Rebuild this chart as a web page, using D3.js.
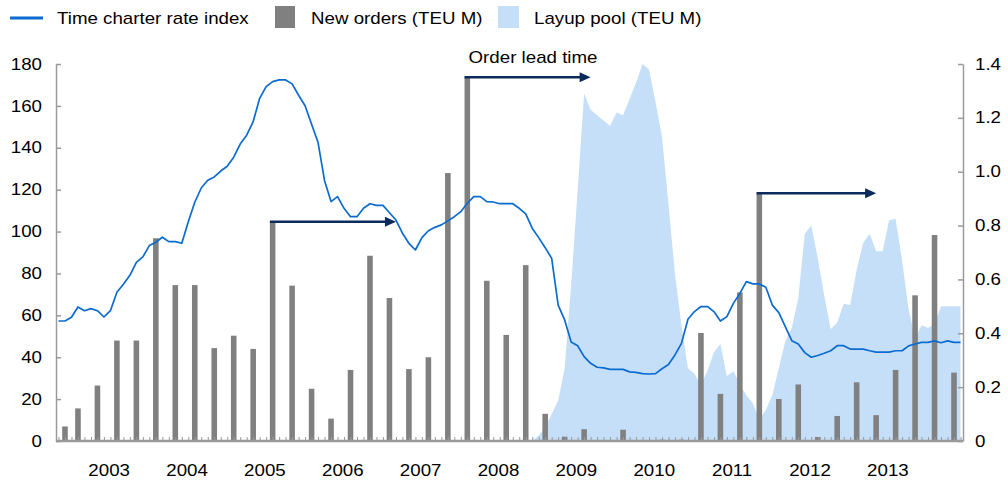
<!DOCTYPE html>
<html><head><meta charset="utf-8">
<script src="https://cdn.jsdelivr.net/npm/d3@7"></script>
<style>
html,body{margin:0;padding:0;background:#fff;}
svg{display:block;font-family:"Liberation Sans",Arial,sans-serif;}
</style></head><body>
<svg id="chart" width="1008" height="481"></svg>
<script>
// ---------- data ----------
const firstMonth = "2002-11";
const lastMonth = "2014-06";
const yearLabels = ["2003","2004","2005","2006","2007","2008","2009","2010","2011","2012","2013"];
const leftTicks = [0,20,40,60,80,100,120,140,160,180];
const rightTicks = [0,0.2,0.4,0.6,0.8,1.0,1.2,1.4];

// Time charter rate index, monthly Nov 2002 .. Jun 2014
const charterIndex = [
 57.3,57.3,59.1,64.0,62.2,63.2,62.2,59.2,62.2,71.0,74.8,79.1,
 85.3,87.9,93.3,94.9,97.3,95.2,95.2,94.4,104.7,114.0,120.8,124.5,
 126.1,128.9,131.2,135.5,141.8,146.0,152.5,163.6,169.2,171.6,172.4,172.4,
 170.5,165.1,160.1,151.2,142.5,124.3,114.3,116.7,111.1,107.1,107.1,111.1,
 113.3,112.5,112.5,109.0,105.5,99.2,94.4,91.2,97.1,100.4,102.0,103.2,
 105.1,107.1,109.5,113.5,116.7,116.7,114.3,114.1,113.3,113.3,113.3,111.1,
 108.4,101.6,97.1,92.3,87.2,64.9,57.8,47.3,45.5,40.3,37.1,35.2,
 34.9,34.2,34.2,34.2,33.0,32.8,32.2,32.0,32.2,34.5,36.5,41.1,
 46.6,58.1,61.8,64.2,64.2,61.8,57.3,59.4,65.7,70.5,76.1,75.0,
 75.0,73.4,64.9,61.3,54.6,47.9,46.3,42.2,40.0,40.8,41.9,43.1,
 45.5,45.5,43.9,43.9,43.9,43.1,42.4,42.4,42.4,43.1,43.1,45.4,
 46.3,47.1,47.1,47.8,46.9,47.8,47.1,47.1
];

// Layup pool (TEU M), monthly Nov 2002 .. Jun 2014
const layupPool = [
 0,0,0,0,0,0,0,0,0,0,0,0,
 0,0,0,0,0,0,0,0,0,0,0,0,
 0,0,0,0,0,0,0,0,0,0,0,0,
 0,0,0,0,0,0,0,0,0,0,0,0,
 0,0,0,0,0,0,0,0,0,0,0,0,
 0,0,0,0,0,0,0,0,0,0,0,0,
 0,0,0.02,0.05,0.10,0.15,0.27,0.58,0.93,1.29,1.23,1.21,
 1.19,1.17,1.22,1.21,1.27,1.33,1.40,1.38,1.26,1.13,0.88,0.62,
 0.43,0.27,0.25,0.21,0.26,0.33,0.36,0.24,0.26,0.21,0.17,0.14,
 0.08,0.115,0.17,0.27,0.37,0.42,0.53,0.77,0.80,0.68,0.54,0.415,
 0.44,0.51,0.505,0.635,0.735,0.77,0.705,0.705,0.82,0.825,0.67,0.49,
 0.38,0.43,0.42,0.435,0.50,0.50,0.50,0.50
];

// New orders (TEU M), quarterly
const orderMonths = [
 "2002-12","2003-02","2003-05","2003-08","2003-11","2004-02","2004-05","2004-08","2004-11",
 "2005-02","2005-05","2005-08","2005-11","2006-02","2006-05","2006-08","2006-11",
 "2007-02","2007-05","2007-08","2007-11","2008-02","2008-05","2008-08","2008-11",
 "2009-02","2009-05","2009-08","2009-11","2010-02","2010-05","2010-08","2010-11",
 "2011-02","2011-05","2011-08","2011-11","2012-02","2012-05","2012-08","2012-11",
 "2013-02","2013-05","2013-08","2013-11","2014-02","2014-05"
];
const orderValues = [
 0.054,0.121,0.206,0.373,0.373,0.753,0.579,0.579,0.345,
 0.391,0.342,0.814,0.577,0.194,0.083,0.264,0.688,
 0.531,0.267,0.311,0.995,1.351,0.595,0.394,0.653,
 0.101,0.016,0.044,0,0.042,0,0.005,0.005,
 0.401,0.175,0.552,0.920,0.156,0.210,0.015,0.093,
 0.218,0.096,0.264,0.541,0.765,0.254
];

// Order lead time arrows: from order month to delivery month
const arrowFrom = ["2005-08","2008-02","2011-11"];
const arrowTo   = ["2007-03","2009-09","2013-05"];
const arrowLabel = ["","Order lead time",""];

// ---------- layout ----------
const SX = 1.17, FS = 16;
const plotL = 56, plotR = 963, plotT = 64, plotB = 441;
const fmt = d3.timeFormat("%Y-%m"), parse = d3.timeParse("%Y-%m");
const months = d3.timeMonth.range(parse(firstMonth), d3.timeMonth.offset(parse(lastMonth),1)).map(fmt);

const svg = d3.select("#chart");
const x = d3.scalePoint().domain(months).range([58.5, 960.5]);
const yL = d3.scaleLinear().domain([0,180]).range([plotB, plotT]);
const yR = d3.scaleLinear().domain([0,1.4]).range([plotB, plotT]);
const step = x.step();
const barW = step*0.86;

function stretch(sel){
  sel.each(function(){
    const t = d3.select(this);
    const tx = +t.attr("x")||0, ty = +t.attr("y")||0;
    t.attr("x",0).attr("y",0).attr("transform",`translate(${tx},${ty}) scale(${SX},1)`);
  });
}

// area
svg.append("path")
  .datum(months.map((m,i)=>({m, v: layupPool[i]})))
  .attr("fill","#c6dff8")
  .attr("d", d3.area().x(d=>x(d.m)).y0(yR(0)).y1(d=>yR(d.v)));

// bars
svg.append("g").selectAll("rect").data(orderMonths.map((m,i)=>({m, v: orderValues[i]})))
  .join("rect")
  .attr("x", d=>x(d.m)-barW/2).attr("width", barW)
  .attr("y", d=>yR(d.v)).attr("height", d=>yR(0)-yR(d.v))
  .attr("fill","#808080");

// bottom axis ticks (monthly)
const xAxis = svg.append("g").attr("transform",`translate(0,${plotB})`)
  .call(d3.axisBottom(x).tickValues(months).tickSize(-4).tickFormat(""));
xAxis.select(".domain").remove();
xAxis.selectAll("line").attr("stroke","#9a9a9a").attr("stroke-width",1);
svg.append("line").attr("x1",plotL).attr("x2",plotR).attr("y1",plotB).attr("y2",plotB)
  .attr("stroke","#9a9a9a").attr("stroke-width",2.5);

// year labels
svg.append("g").selectAll("text").data(yearLabels).join("text")
  .attr("x", d=>(x(d+"-06")+x(d+"-07"))/2 + 2).attr("y",476)
  .attr("text-anchor","middle").attr("font-size",FS).attr("fill","#000")
  .text(d=>d).call(stretch);

// left axis
const gL = svg.append("g").attr("transform",`translate(${plotL},0)`)
  .call(d3.axisLeft(yL).tickValues(leftTicks).tickSize(-5).tickSizeOuter(0).tickPadding(14));
gL.select(".domain").attr("stroke","#9a9a9a").attr("stroke-width",1.5);
gL.selectAll(".tick line").attr("stroke","#9a9a9a").attr("stroke-width",1.5);
gL.selectAll("text").attr("font-size",FS).attr("font-family","Liberation Sans, Arial, sans-serif").attr("fill","#000").call(stretch);

// right axis
const gR = svg.append("g").attr("transform",`translate(${plotR},0)`)
  .call(d3.axisRight(yR).tickValues(rightTicks).tickSize(-5).tickSizeOuter(0).tickPadding(12)
    .tickFormat(d=> d===0 ? "0" : d3.format(".1f")(d)));
gR.select(".domain").attr("stroke","#9a9a9a").attr("stroke-width",1.5);
gR.selectAll(".tick line").attr("stroke","#9a9a9a").attr("stroke-width",1.5);
gR.selectAll("text").attr("font-size",FS).attr("font-family","Liberation Sans, Arial, sans-serif").attr("fill","#000").call(stretch);

// line
svg.append("path")
  .datum(months.map((m,i)=>({m, v: charterIndex[i]})))
  .attr("fill","none").attr("stroke","#0b6bd0").attr("stroke-width",1.7).attr("stroke-linejoin","round")
  .attr("d", d3.line().x(d=>x(d.m)).y(d=>yL(d.v)));

// arrows
const arrowColor = "#0c2a5c";
const headL = 11, headW = 5;
arrowFrom.forEach((m,i)=>{
  const v = orderValues[orderMonths.indexOf(m)];
  const y = yR(v);
  const x0 = x(m) - barW/2, x1 = x(arrowTo[i]);
  svg.append("line").attr("x1",x0).attr("x2",x1-headL+1).attr("y1",y).attr("y2",y)
    .attr("stroke",arrowColor).attr("stroke-width",2.5);
  svg.append("path").attr("d",`M${x1},${y}L${x1-headL},${y-headW}L${x1-headL},${y+headW}Z`).attr("fill",arrowColor);
  if (arrowLabel[i]) {
    svg.append("text").attr("x",x0+4).attr("y",y-14).attr("font-size",FS).attr("fill","#000")
      .text(arrowLabel[i]).call(stretch);
  }
});

// legend
const lg = svg.append("g");
lg.append("line").attr("x1",10).attr("x2",43).attr("y1",18).attr("y2",18).attr("stroke","#0b6bd0").attr("stroke-width",3);
lg.append("text").attr("x",57).attr("y",24).attr("font-size",FS).text("Time charter rate index").call(stretch);
lg.append("rect").attr("x",275).attr("y",6).attr("width",20).attr("height",22).attr("fill","#808080");
lg.append("text").attr("x",311).attr("y",24).attr("font-size",FS).text("New orders (TEU M)").call(stretch);
lg.append("rect").attr("x",498).attr("y",6).attr("width",21).attr("height",22).attr("fill","#c6dff8");
lg.append("text").attr("x",534).attr("y",24).attr("font-size",FS).text("Layup pool (TEU M)").call(stretch);
</script>
</body></html>
